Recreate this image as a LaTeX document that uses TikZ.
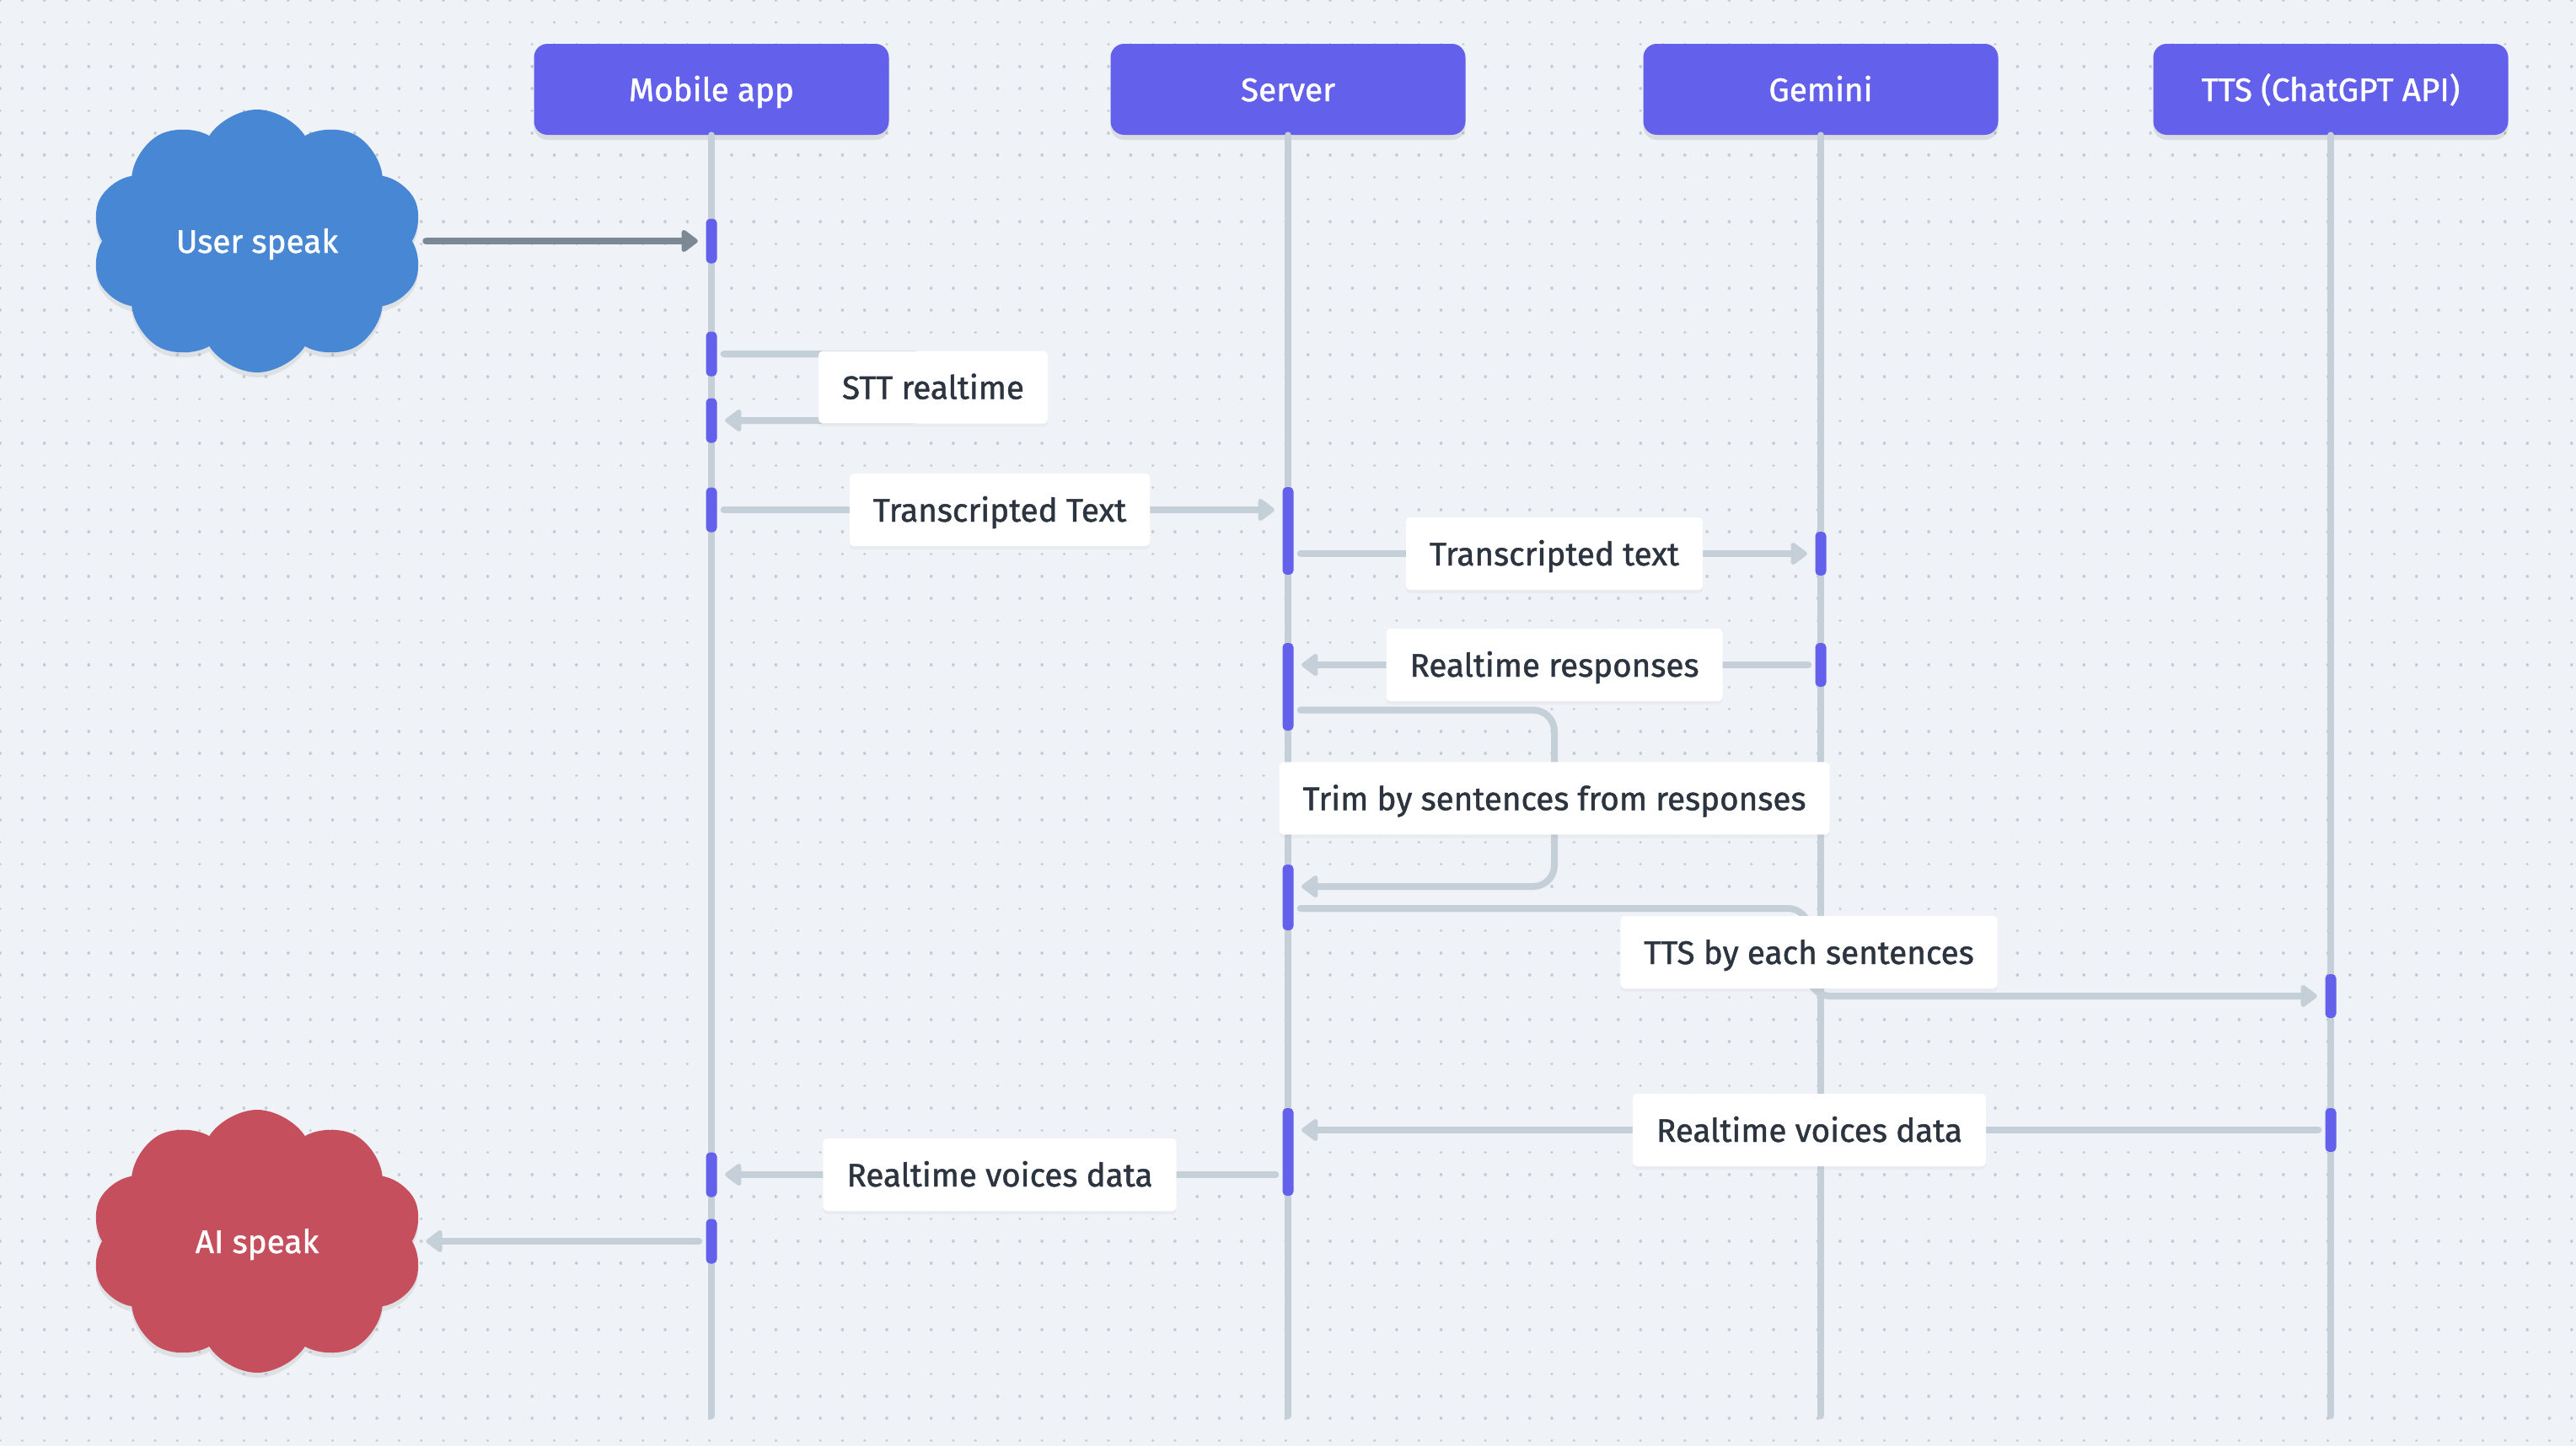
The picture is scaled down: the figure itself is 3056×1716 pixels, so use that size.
\documentclass[tikz,border=0pt]{standalone}
\usepackage{fontspec}
\setmainfont{Fira Sans}
\newfontfamily\medfont{Fira Sans}[FakeBold=1.2]
\usetikzlibrary{arrows.meta,shapes.symbols,shadows}
\definecolor{bgcol}{HTML}{EFF2F6}
\definecolor{dotcol}{HTML}{C3CBD5}
\definecolor{headcol}{HTML}{6360EB}
\definecolor{barcol}{HTML}{6360EB}
\definecolor{lifecol}{HTML}{C5CFD8}
\definecolor{msgcol}{HTML}{C5CFD8}
\definecolor{darkcol}{HTML}{7C8893}
\definecolor{bluecloud}{HTML}{4787D4}
\definecolor{redcloud}{HTML}{C54F5D}
\definecolor{textcol}{HTML}{2C3440}
\begin{document}
\begin{tikzpicture}
[x=0.1mm,y=-0.1mm,
  headdecorate/.style={shape=rectangle,rounded corners=1.6mm,fill=headcol,text=white,
    minimum width=42.1mm,minimum height=10.8mm,text height=2.8mm,text depth=0mm,
    font=\medfont\fontsize{11}{13}\selectfont,
    drop shadow={opacity=0.18,shadow xshift=0mm,shadow yshift=-0.6mm}},%
  clouddecorate/.style={shape=cloud,cloud puffs=10,cloud puff arc=115,aspect=1.25,
    minimum width=39.4mm,minimum height=31.2mm,text=white,text height=2.8mm,text depth=0mm,
    font=\medfont\fontsize{11}{13}\selectfont,
    drop shadow={opacity=0.15,shadow xshift=0mm,shadow yshift=-0.6mm}},%
  labeldecorate/.style={shape=rectangle,rounded corners=0.5mm,fill=white,text=textcol,
    inner xsep=2.8mm,inner ysep=0mm,minimum height=8.6mm,text height=2.8mm,text depth=0mm,
    font=\medfont\fontsize{11}{13}\selectfont,
    drop shadow={opacity=0.06,shadow xshift=0mm,shadow yshift=-0.4mm}},%
  bardecorate/.style={shape=rectangle,rounded corners=0.5mm,fill=barcol,inner sep=0pt,
    minimum width=1.3mm},%
  lifedecorate/.style={-,draw=lifecol,line width=0.85mm,line cap=round},%
  msgdecorate/.style={draw=msgcol,line width=0.8mm,line cap=round,
    -{Triangle[length=2.1mm,width=3mm,round]},shorten <=0.75mm,shorten >=0.9mm},%
  darkdecorate/.style={msgdecorate,draw=darkcol,line width=0.85mm}]
\useasboundingbox (0,0) rectangle (3056,1716);
%% dotted paper
\fill[bgcol] (0,0) rectangle (3056,1716);
\foreach \r in {0,...,65} {
  \draw[dotcol,line width=0.35mm,line cap=round,dash pattern=on 0.01mm off 2.62mm]
    (0,\r*26.3) -- (3056,\r*26.3);
}
%% lifeline heads
\foreach \nodename/\x/\txt in {mobile/844/Mobile app, server/1528/Server,
  gemini/2160/Gemini, tts/2765/TTS (ChatGPT API)} {
  \node (\nodename) at (\x,106) [headdecorate] {\txt};
}
%% lifelines
\coordinate (lifeend) at (0,1680);
\foreach \nodename in {mobile,server,gemini,tts} {
  \draw[lifedecorate] (\nodename.south) -- (\nodename.south |- lifeend);
}
%% activation bars
\foreach \nodename/\x/\y/\h in {mb1/844/286/5.3, mb2/844/420/5.3, mb3/844/499/5.3,
  mb4/844/605/5.3, mb5/844/1394/5.3, mb6/844/1473/5.3,
  sv1/1528/630/10.4, sv2/1528/815/10.4, sv3/1528/1065/7.8, sv4/1528/1367/10.4,
  gm1/2160/657/5.2, gm2/2160/789/5.2, ts1/2765/1182/5.2, ts2/2765/1341/5.2} {
  \node (\nodename) at (\x,\y) [bardecorate,minimum height=\h mm] {};
}
%% speakers
\node (userspeak) at (305,286) [clouddecorate,fill=bluecloud] {User speak};
\node (aispeak) at (305,1473) [clouddecorate,fill=redcloud] {AI speak};
%% messages
\coordinate (sttbend) at (1107,0);
\coordinate (trimbend) at (1844,0);
\coordinate (ttsbend) at (2146,0);
\coordinate (trimout) at ([yshift=2.5mm]sv2.south east);
\coordinate (trimin) at ([yshift=1.3mm]sv3.east);
\coordinate (ttsout) at ([yshift=-1.3mm]sv3.east);
\draw[darkdecorate,shorten <=1.6mm] (userspeak.east |- mb1.west) -- (mb1.west);
\draw[msgdecorate,rounded corners=2.5mm] (mb2.east) -- (mb2.east -| sttbend)
  -- node[labeldecorate] (lblstt) {STT realtime} (mb3.east -| sttbend) -- (mb3.east);
\draw[msgdecorate] (mb4.east)
  -- node[labeldecorate] (lbltext) {Transcripted Text} (mb4.east -| sv1.west);
\draw[msgdecorate] (sv1.east |- gm1.west)
  -- node[labeldecorate] (lblgemini) {Transcripted text} (gm1.west);
\draw[msgdecorate] (gm2.west)
  -- node[labeldecorate] (lblresp) {Realtime responses} (gm2.west -| sv2.east);
\draw[msgdecorate,rounded corners=2.5mm] (trimout) -- (trimout -| trimbend)
  -- node[labeldecorate] (lbltrim) {Trim by sentences from responses} (trimin -| trimbend)
  -- (trimin);
\draw[msgdecorate,rounded corners=2.5mm] (ttsout) -- (ttsout -| ttsbend)
  -- node[labeldecorate] (lbltts) {TTS by each sentences} (ts1.west -| ttsbend)
  -- (ts1.west);
\draw[msgdecorate] (ts2.west)
  -- node[labeldecorate] (lblvoice) {Realtime voices data} (ts2.west -| sv4.east);
\draw[msgdecorate] (sv4.west |- mb5.east)
  -- node[labeldecorate] (lblvoiceapp) {Realtime voices data} (mb5.east);
\draw[msgdecorate,shorten >=1.6mm] (mb6.west) -- (aispeak.east |- mb6.west);
\end{tikzpicture}
\end{document}
